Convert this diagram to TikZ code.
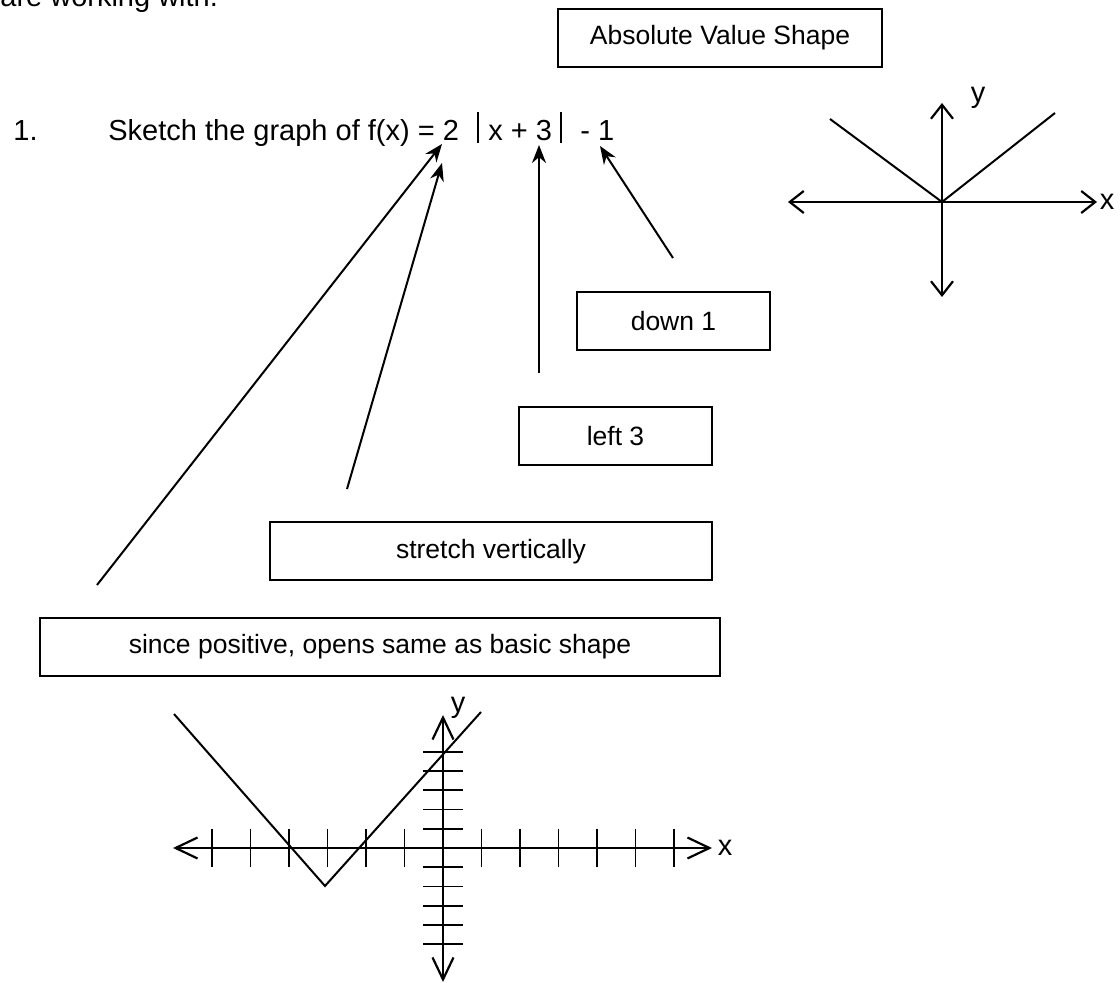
\documentclass[tikz,border=0pt]{standalone}
\usepackage{fontspec}
\setmainfont{Liberation Sans}
\usetikzlibrary{arrows.meta}
\begin{document}
\begin{tikzpicture}[x=0.5pt,y=-0.5pt,
  body/.style={font=\fontsize{14.5}{17}\selectfont, inner sep=0pt},
  notebox/.style={draw, line width=1pt, font=\fontsize{13.25}{16}\selectfont, inner sep=0pt, minimum height=29pt},
  pointer/.style={line width=1pt, -{Stealth[length=9pt,width=7pt]}},
  smallaxis/.style={line width=1.1pt, {Straight Barb[length=7pt,width=11pt]}-{Straight Barb[length=7pt,width=11pt]}},
  bigaxis/.style={line width=1.1pt, {Straight Barb[length=11pt,width=10.5pt]}-{Straight Barb[length=11pt,width=10.5pt]}},
  tick/.style={line width=0.9pt}]
\useasboundingbox (0,0) rectangle (1120,983);

% text of the exercise
\node[body, anchor=base west] (intro) at (0,7) {are working with.};
\node[body, anchor=base west] (num) at (13,141) {1.};
\node[body, anchor=base west] (sketch) at (108,141) {Sketch the graph of f(x) = 2};
\node[body, anchor=base west] (inner) at (488,141) {x + 3};
\node[body, anchor=base west] (shift) at (580,141) {- 1};
\draw[line width=0.6pt] (478,112) -- (478,143);
\draw[line width=0.6pt] (561,112) -- (561,143);

% boxes
\node[notebox, minimum width=162pt] (absbox) at (720,38) {Absolute Value Shape};
\node[notebox, minimum width=96.5pt] (down) at (673.5,321) {down 1};
\node[notebox, minimum width=96.5pt] (left) at (615.5,436.5) {left 3};
\node[notebox, minimum width=221pt] (stretch) at (491,551.5) {stretch vertically};
\node[notebox, minimum width=340pt] (sign) at (380,647) {since positive, opens same as basic shape\hspace{14.5pt}};

% arrows to the formula
\coordinate (tailA) at (97,585);
\coordinate (tipA) at (442,144);
\coordinate (tailB) at (347,489);
\coordinate (tipB) at (442,163);
\coordinate (tailC) at (539,373);
\coordinate (tipC) at (539,145);
\coordinate (tailD) at (673,258);
\coordinate (tipD) at (600,146);
\draw[pointer] (tailA) -- (tipA);
\draw[pointer] (tailB) -- (tipB);
\draw[pointer] (tailC) -- (tipC);
\draw[pointer] (tailD) -- (tipD);

% basic shape
\draw[smallaxis] (788,202) -- (1097,202);
\draw[smallaxis] (942,297) -- (942,103);
\node[body] (xs) at (1107,202) {x};
\node[body] (ys) at (978,98) {y};
\draw[line width=1pt] (830,119) -- (942,202) -- (1055,113);

% sketched graph
\draw[bigaxis] (173,848) -- (712,848);
\draw[bigaxis] (443,982) -- (443,715);
\foreach \i in {-6,...,-1,1,2,...,6}
  \draw[tick] ({443+38.5*\i},829) -- ({443+38.5*\i},867);
\foreach \j in {-5,...,-1,1,2,...,5}
  \draw[tick] (423,{848-19.25*\j}) -- (463,{848-19.25*\j});
\node[body] (xb) at (725,848) {x};
\node[body] (yb) at (458,708) {y};
\draw[line width=1pt] (174,714) -- (325,886) -- (481,712);
\end{tikzpicture}
\end{document}
